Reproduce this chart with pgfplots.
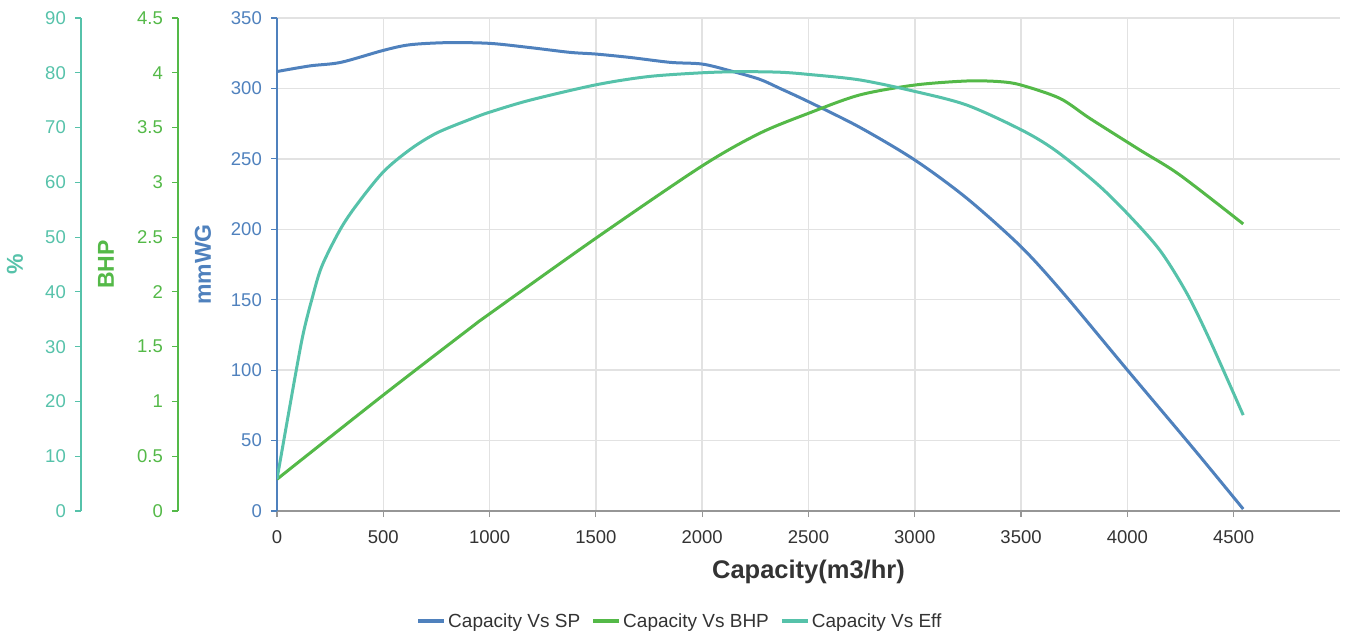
\documentclass[border=0pt]{standalone}
\usepackage{fontspec}
\setmainfont{Liberation Sans}
\usepackage{pgfplots}
\pgfplotsset{compat=1.18}

\definecolor{spblue}{RGB}{79,129,189}
\definecolor{bhpgreen}{RGB}{84,185,72}
\definecolor{effteal}{RGB}{86,194,170}
\definecolor{gridgray}{RGB}{226,226,226}
\definecolor{axisgray}{RGB}{150,150,150}
\definecolor{txt}{RGB}{51,51,51}

\newcommand{\tickfont}{\fontsize{18.5}{22}\selectfont}
\newcommand{\titlefont}{\fontsize{23}{26}\selectfont\bfseries}

\pgfplotsset{
  base/.style={
    scale only axis, height=493pt, ymin=0,
    tick align=outside, major tick length=6pt,
    /pgf/number format/assume math mode=true,
    /pgf/number format/1000 sep={},
    scaled ticks=false,
    ticklabel style={font=\tickfont},
  },
  curve/.style={
    scale only axis, width=1063pt, height=493pt,
    xmin=0, xmax=5000, ymin=0, hide axis,
  },
  side/.style={
    base, width=10pt, xmin=0, xmax=1,
    hide x axis, axis y line*=left,
    yticklabel style={inner sep=0pt, xshift=-9pt},
  },
}

\begin{document}
\begin{tikzpicture}
\useasboundingbox (0pt,0pt) rectangle (1349pt,632pt);

% main axis: static pressure, mmWG
\begin{axis}[base,
  at={(277pt,121pt)}, anchor=south west,
  width=1063pt,
  xmin=0, xmax=5000, ymax=350,
  xtick={0,500,...,4500}, ytick={0,50,...,350},
  axis x line*=bottom, axis y line*=left,
  grid=major, grid style={gridgray, line width=1.5pt},
  x axis line style={axisgray, line width=1.5pt},
  y axis line style={spblue, line width=1.2pt},
  xtick style={axisgray, line width=1.2pt},
  ytick style={spblue, line width=1.2pt},
  yticklabel style={spblue, inner sep=0pt, xshift=-9pt},
  xticklabel style={txt, inner sep=0pt, yshift=-13pt},
  xlabel={Capacity(m3/hr)},
  xlabel style={font=\fontsize{25.5}{28}\selectfont\bfseries, text=txt,
    at={(axis description cs:0.5,-0.1237)}, anchor=center},
  ylabel={mmWG},
  ylabel style={font=\titlefont, text=spblue, at={(axis description cs:-0.0696,0.5)}, anchor=center, rotate=0},
  legend columns=3,
  legend style={draw=none, fill=none, font=\fontsize{19}{22}\selectfont, text=txt,
    at={(axis description cs:0.379,-0.2231)}, anchor=center,
    /tikz/every even column/.append style={column sep=9pt}},
  legend image code/.code={\draw[#1, line width=4pt] (0pt,0pt) -- (26pt,0pt);},
]
\addplot[spblue, line width=3pt, smooth] coordinates {
(0,312) (155,316) (300,318.5) (500,327) (625,331) (800,332.5) (1000,332)
(1190,329) (1378,325.6) (1500,324.4) (1660,322) (1850,318.5) (2000,317.3)
(2130,312.6) (2270,306.5) (2366,300) (2500,290.6) (2740,272.5) (3000,249.2)
(3245,222) (3500,187.6) (3699,154.6) (4000,100.1) (4310,44.5) (4545,1.4)
};
\addlegendentry{Capacity Vs SP}
\addlegendimage{bhpgreen}
\addlegendentry{Capacity Vs BHP}
\addlegendimage{effteal}
\addlegendentry{Capacity Vs Eff}
\end{axis}

% BHP curve
\begin{axis}[curve, at={(277pt,121pt)}, anchor=south west, ymax=4.5]
\addplot[bhpgreen, line width=3pt, smooth] coordinates {
(0,0.29) (500,1.058) (908,1.668) (1000,1.80) (1500,2.49) (2000,3.15)
(2270,3.447) (2500,3.63) (2740,3.797) (3000,3.888) (3245,3.925) (3400,3.919)
(3500,3.888) (3683,3.766) (3824,3.583) (4059,3.295) (4247,3.067) (4545,2.62)
};
\end{axis}

% efficiency curve
\begin{axis}[curve, at={(277pt,121pt)}, anchor=south west, ymax=90]
\addplot[effteal, line width=3pt, smooth] coordinates {
(0,5.84) (85,24.5) (124,32.5) (163,38.5) (210,44.6) (296,51.3) (375,55.9)
(500,61.9) (626,66.0) (751,69.0) (908,71.5) (1000,72.8) (1190,75.0)
(1500,77.8) (1745,79.3) (2000,80.0) (2180,80.2) (2366,80.1) (2500,79.7)
(2740,78.7) (3000,76.6) (3245,74.1) (3500,69.6) (3659,65.9) (3855,59.8)
(4000,54.3) (4153,47.6) (4279,39.8) (4388,31.2) (4545,17.5)
};
\end{axis}

% BHP scale
\begin{axis}[side, at={(178pt,121pt)}, anchor=south west,
  ymax=4.5, ytick={0,0.5,...,4.5},
  y axis line style={bhpgreen, line width=1.2pt},
  ytick style={bhpgreen, line width=1.2pt},
  yticklabel style={bhpgreen},
  ylabel={BHP},
  ylabel style={font=\titlefont, text=bhpgreen, at={(axis description cs:-7.2,0.5)}, anchor=center, rotate=0},
]
\end{axis}

% efficiency scale
\begin{axis}[side, at={(81pt,121pt)}, anchor=south west,
  ymax=90, ytick={0,10,...,90},
  y axis line style={effteal, line width=1.2pt},
  ytick style={effteal, line width=1.2pt},
  yticklabel style={effteal},
  ylabel={\%},
  ylabel style={font=\titlefont, text=effteal, at={(axis description cs:-6.6,0.5)}, anchor=center, rotate=0},
]
\end{axis}
\end{tikzpicture}
\end{document}
